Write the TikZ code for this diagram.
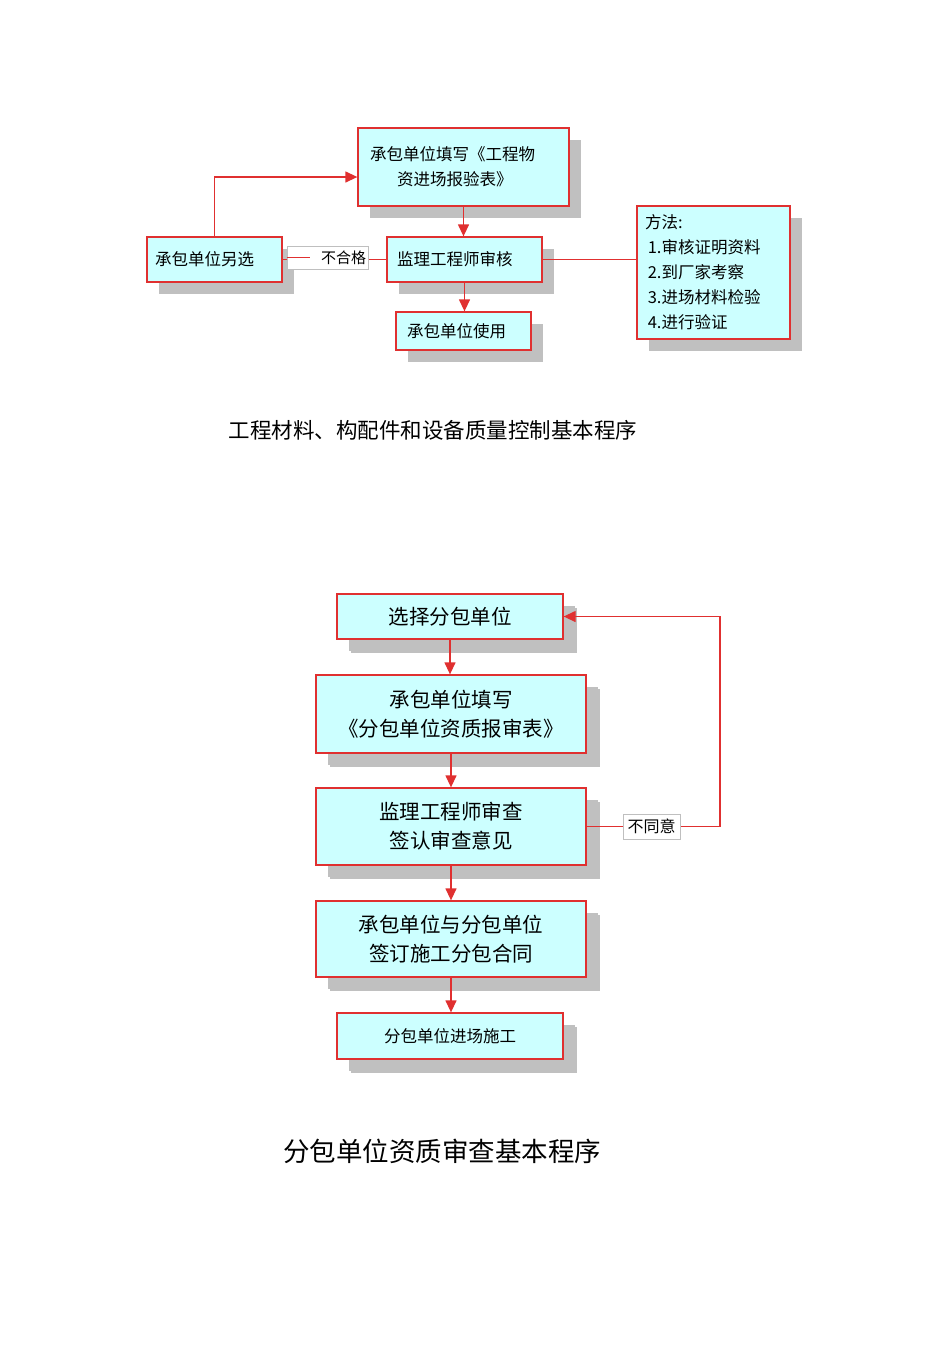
\documentclass[tikz,border=0pt]{standalone}
\usepackage{fontspec}
\setmainfont{Noto Sans CJK SC}
\usepackage{tikz}
\usetikzlibrary{arrows.meta,shadows}
\tikzset{>={Triangle[width=11pt,length=12pt]}}
\definecolor{boxfill}{RGB}{204,255,255}
\definecolor{boxline}{RGB}{224,48,48}
\definecolor{shade}{RGB}{192,192,192}
\tikzset{
  box/.style={draw=boxline, line width=1.3pt, fill=boxfill, inner sep=0pt,
    drop shadow={shadow xshift=12pt, shadow yshift=-12pt, fill=shade, opacity=1}},
  bigbox/.style={box, align=center, font={\fontsize{20.5}{29}\selectfont},
    drop shadow={shadow xshift=14pt, shadow yshift=-14pt, fill=shade, opacity=1}},
  link/.style={draw=boxline, line width=1.3pt},
  flag/.style={draw=black!25, fill=white, line width=0.7pt, inner sep=0pt},
}

\begin{document}
\begin{tikzpicture}[x=1pt, y=-1pt]

  \useasboundingbox (0,0) rectangle (950,1345);

  % quality control of materials
  \begin{scope}[font={\fontsize{16.5}{25}\selectfont}]
  \node[box, minimum width=211, minimum height=78, text width=187, align=left] (report) at (463.5,167)
    {承包单位填写《工程物\\\hspace*{27pt}资进场报验表》};
  \node[box, minimum width=135, minimum height=45, text width=119, align=left] (other) at (214.5,259.5)
    {承包单位另选};
  \node[box, minimum width=155, minimum height=45, text width=135, align=left] (check) at (464.5,259.5)
    {监理工程师审核};
  \node[box, minimum width=135, minimum height=38, text width=113, align=left] (use) at (463.5,331)
    {承包单位使用};
  \node[box, minimum width=153, minimum height=133, text width=137, align=left] (method) at (713.5,272.5)
    {方法:\\\,1.审核证明资料\\\,2.到厂家考察\\\,3.进场材料检验\\\,4.进行验证};
  \end{scope}

  \draw[link, ->] (report.south) -- (report.south |- check.north);
  \draw[link, ->] (check.south) -- (check.south |- use.north);
  \draw[link, ->] (other.north) |- ([yshift=-10pt]report.west);
  \draw[link] (other.east) -- (check.west);
  \draw[link] (check.east) -- (check.east -| method.west);

  \node[flag, minimum width=81, minimum height=23, text width=77, align=right,
    font={\fontsize{15}{18}\selectfont}] (fail) at (327.5,257.5) {不合格};
  \draw[link] (fail.west) -- ++(23,0);

  \node[font={\fontsize{21.5}{26}\selectfont}] (title1) at (433,430)
    {工程材料、构配件和设备质量控制基本程序};

  % subcontractor qualification
  \node[bigbox, minimum width=226, minimum height=45] (pick) at (450,616.5) {选择分包单位};
  \node[bigbox, minimum width=270, minimum height=78] (form) at (451,714)
    {承包单位填写\\《分包单位资质报审表》};
  \node[bigbox, minimum width=270, minimum height=77] (review) at (451,826.5)
    {监理工程师审查\\签认审查意见};
  \node[bigbox, minimum width=270, minimum height=76] (contract) at (451,939)
    {承包单位与分包单位\\签订施工分包合同};
  \node[bigbox, minimum width=226, minimum height=46, font={\fontsize{16.5}{20}\selectfont}] (enter) at (450,1036)
    {分包单位进场施工};

  \draw[link, ->] (pick.south) -- (pick.south |- form.north);
  \draw[link, ->] (form.south) -- (form.south |- review.north);
  \draw[link, ->] (review.south) -- (review.south |- contract.north);
  \draw[link, ->] (contract.south) -- (contract.south |- enter.north);

  \coordinate (back) at (720,826.5);
  \draw[link, ->] (review.east) -- (back) |- (pick.east);
  \node[flag, minimum width=57, minimum height=25,
    font={\fontsize{16}{19}\selectfont}] (deny) at (651.5,826.5) {不同意};

  \node[font={\fontsize{26.5}{30}\selectfont}] (title2) at (442,1151)
    {分包单位资质审查基本程序};

\end{tikzpicture}
\end{document}
